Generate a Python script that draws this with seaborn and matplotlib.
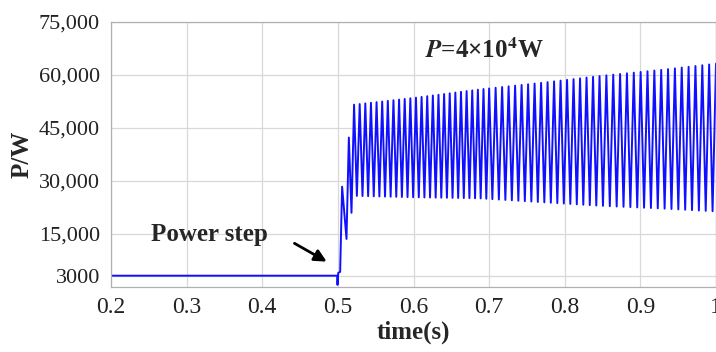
import numpy as np
import pandas as pd
import matplotlib
matplotlib.use("Agg")
import matplotlib.pyplot as plt
import seaborn as sns

# ---- data ----
# flat pre-step level and the start-up transient (time s, power W)
transient_t = [0.20, 0.4990, 0.4995, 0.5005, 0.5030, 0.5056, 0.5114, 0.5145, 0.5180]
transient_p = [3200, 3200, 600, 4000, 4300, 28400, 13600, 42300, 21000]

# envelope of the sustained oscillation after the step
env_t = [0.5214, 0.60, 0.687, 0.77, 0.846, 0.93, 1.00]
env_upper = [51600, 53500, 55900, 57800, 59700, 61500, 63200]
env_lower = [25800, 25400, 25100, 24000, 23000, 22200, 21400]
# visible cycles counted per time segment
seg_t = [0.5214, 0.70, 0.846, 1.00]
seg_cycles = [24, 17, 17]

x_ticks = [0.2, 0.3, 0.4, 0.5, 0.6, 0.7, 0.8, 0.9, 1.0]
x_ticklabels = ["0.2", "0.3", "0.4", "0.5", "0.6", "0.7", "0.8", "0.9", "1"]
y_ticks = [3000, 15000, 30000, 45000, 60000, 75000]
y_ticklabels = ["3000", "15,000", "30,000", "45,000", "60,000", "75,000"]

# ---- build the trace ----
peak_t = []
for a, b, n in zip(seg_t[:-1], seg_t[1:], seg_cycles):
    peak_t.extend(np.linspace(a, b, n + 1)[:-1])
peak_t.append(seg_t[-1])
osc_t, osc_p = [], []
for i, tk in enumerate(peak_t):
    osc_t.append(tk)
    osc_p.append(np.interp(tk, env_t, env_upper))
    if i + 1 < len(peak_t):
        tt = (tk + peak_t[i + 1]) / 2
        osc_t.append(tt)
        osc_p.append(np.interp(tt, env_t, env_lower))

df = pd.DataFrame({"t": list(transient_t) + osc_t,
                   "p": list(transient_p) + osc_p})

sns.set_style("white")
plt.rcParams["font.family"] = ["Liberation Serif", "DejaVu Serif"]
plt.rcParams["mathtext.fontset"] = "stix"

fig = plt.figure(figsize=(7.16, 3.52), dpi=100)
ax = fig.add_axes([111 / 716, 1 - 287 / 352, (716 - 111) / 716, (287 - 22) / 352])

sns.lineplot(data=df, x="t", y="p", sort=False, estimator=None,
             color="#1010ff", linewidth=1.4, ax=ax)

ax.set_xlim(0.2, 1.0)
ax.set_ylim(0, 75000)
ax.set_xticks(x_ticks)
ax.set_xticklabels(x_ticklabels)
ax.set_yticks(y_ticks)
ax.set_yticklabels(y_ticklabels)
ax.tick_params(axis="x", labelsize=17, length=0, pad=7, colors="#222222")
ax.tick_params(axis="y", labelsize=16, length=0, pad=8, colors="#222222")
ax.grid(True, color="#d8d8d8", linewidth=0.9)
ax.set_axisbelow(True)
for s in ax.spines.values():
    s.set_color("#b0b0b0")
    s.set_linewidth(0.9)

ax.set_xlabel("time(s)", fontsize=18, fontweight="bold", labelpad=2)
ax.set_ylabel("P/W", fontsize=18, fontweight="bold", labelpad=4)

ax.text(0.3296, 15000, "Power step", fontsize=18, fontweight="bold",
        ha="center", va="center")
ax.annotate("", xy=(0.4884, 6800), xytext=(0.4394, 12750),
            arrowprops=dict(arrowstyle="-|>", color="black", lw=2,
                            mutation_scale=18))
ax.text(0.6934, 64900, r"$\mathbfit{P}$=4×10$^{\mathbf{4}}$W", fontsize=18,
        fontweight="bold", ha="center", va="baseline")

fig.savefig("out.png", dpi=100)
